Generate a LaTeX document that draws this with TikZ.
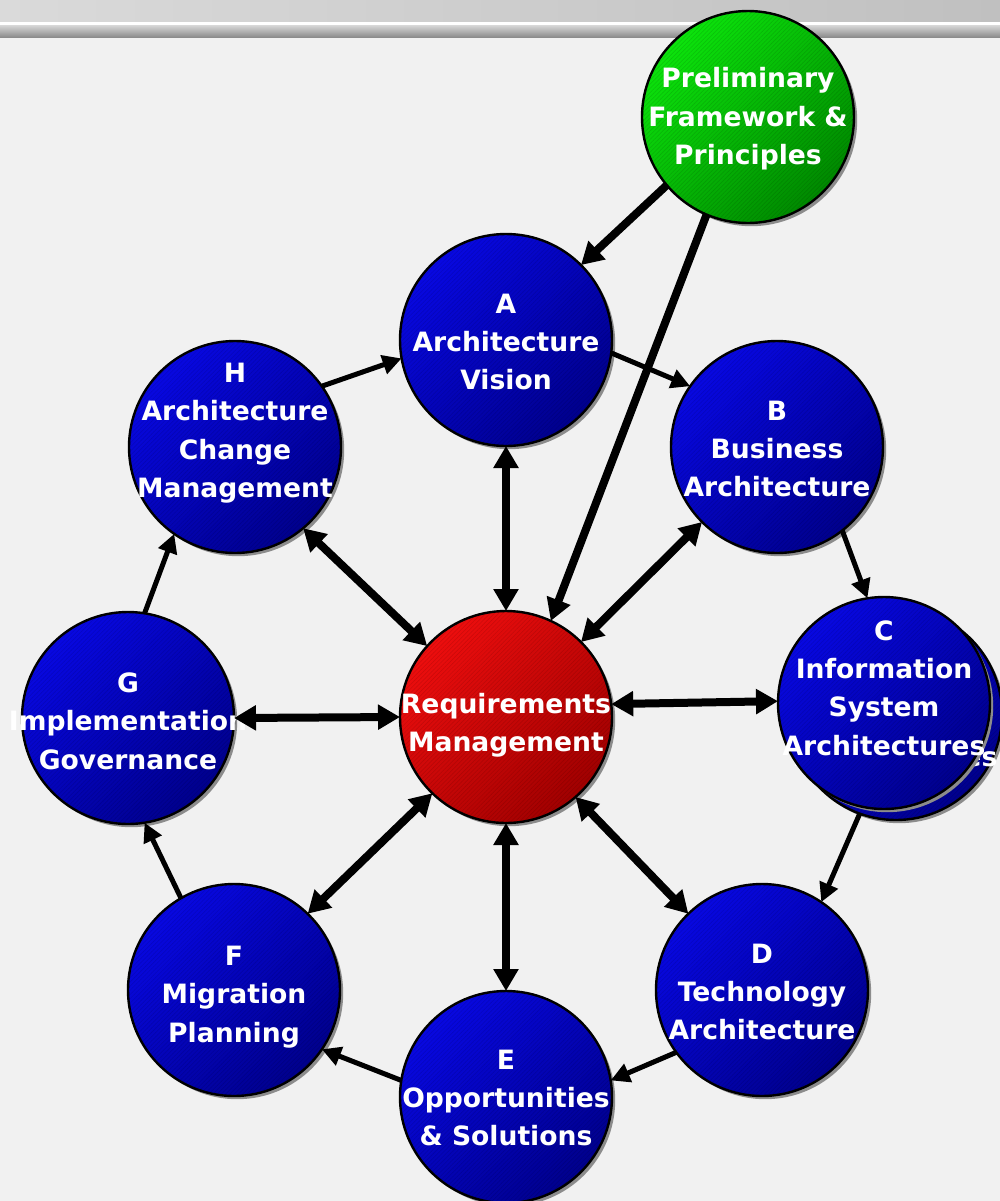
\documentclass[tikz,border=0pt]{standalone}
\usepackage{fontspec}
\setmainfont{DejaVu Sans}
\usetikzlibrary{arrows.meta,shadows,patterns.meta}

\definecolor{bodyGray}{HTML}{F1F1F1}
\definecolor{barLight}{HTML}{DADADA}
\definecolor{barDark}{HTML}{C0C0C0}
\definecolor{bandLight}{HTML}{D8D8D8}
\definecolor{bandDark}{HTML}{8C8C8C}
\definecolor{blueLight}{HTML}{0808E2}
\definecolor{blueDark}{HTML}{00008C}
\definecolor{greenLight}{HTML}{0CE40C}
\definecolor{greenDark}{HTML}{008800}
\definecolor{redLight}{HTML}{EE0E0E}
\definecolor{redDark}{HTML}{A00000}

\begin{document}
\begin{tikzpicture}[x=0.5pt, y=-0.5pt,
    disc/.style={circle, draw=black, line width=1.2pt, minimum size=106pt, inner sep=0pt, outer sep=0pt,
        drop shadow={shadow xshift=1.6pt, shadow yshift=-1.6pt, fill=black!45, opacity=1},
        postaction={opacity=0.12, pattern={Lines[angle=45,distance=1.5pt,line width=0.25pt]}, pattern color=black}},
    phase/.style={disc, top color=blueLight, bottom color=blueDark, shading angle=45},
    prelim/.style={disc, top color=greenLight, bottom color=greenDark, shading angle=45},
    reqs/.style={disc, top color=redLight, bottom color=redDark, shading angle=45},
    txt/.style={text=white, font=\fontsize{13.3}{19.2}\selectfont\bfseries, align=center, inner sep=0pt},
    bigarrow/.style={line width=4pt, -{Triangle[width=12pt,length=11pt]}},
    twoway/.style={line width=4pt, {Triangle[width=12pt,length=11pt]}-{Triangle[width=12pt,length=11pt]}},
    ringarrow/.style={line width=2.5pt, -{Triangle[width=9.5pt,length=9.5pt]}}]
    \useasboundingbox (0,0) rectangle (1000,1201);
    % background and title bar
    \fill[bodyGray] (0,0) rectangle (1000,1201);
    \shade[left color=barLight, right color=barDark] (0,0) rectangle (1000,22);
    \fill[white] (0,22) rectangle (1000,25);
    \shade[top color=bandLight, bottom color=bandDark] (0,25) rectangle (1000,37);
    % circles
    \node[prelim] (P) at (748,117) {};
    \node[txt] (Pt) at (748,119) {Preliminary\\Framework \&\\Principles};
    \node[phase] (A) at (506,340) {};
    \node[txt] (At) at (506,342) {A\\Architecture\\Vision};
    \node[phase] (B) at (777,447) {};
    \node[txt] (Bt) at (777,449) {B\\Business\\Architecture};
    \node[phase] (Cb) at (896,714) {};
    \node[txt] (Cbt) at (896,699) {C\\Information\\System\\Architectures};
    \node[phase] (C) at (884,703) {};
    \node[txt] (Ct) at (884,688) {C\\Information\\System\\Architectures};
    \node[phase] (D) at (762,990) {};
    \node[txt] (Dt) at (762,992) {D\\Technology\\Architecture};
    \node[phase] (E) at (506,1097) {};
    \node[txt] (Et) at (506,1098) {E\\Opportunities\\\& Solutions};
    \node[phase] (F) at (234,990) {};
    \node[txt] (Ft) at (234,997) {F\\Migration\\Planning};
    \node[phase] (G) at (128,718) {};
    \node[txt] (Gt) at (128,721) {G\\Implementation\\Governance};
    \node[phase] (H) at (235,447) {};
    \node[txt] (Ht) at (235,433) {H\\Architecture\\Change\\Management};
    \node[reqs] (R) at (506,717) {};
    \node[txt] (Rt) at (506,725) {Requirements\\Management};
    % ring of phases
    \draw[ringarrow] (H.35) -- (A.190);
    \draw[ringarrow] (A.353) -- (B.145);
    \draw[ringarrow] (B.308) -- (C.99);
    \draw[ringarrow] (Cb.250) -- (D.56);
    \draw[ringarrow] (D.216) -- (E.9);
    \draw[ringarrow] (E.171) -- (F.326);
    \draw[ringarrow] (F.120) -- (G.279);
    \draw[ringarrow] (G.81) -- (H.235);
    % spokes to requirements
    \draw[twoway] (R.90) -- (A.270);
    \draw[twoway] (R.45) -- (B.225);
    \draw[twoway] (R.7) -- (C.179);
    \draw[twoway] (R.311) -- (D.134);
    \draw[twoway] (R.270) -- (E.90);
    \draw[twoway] (R.226) -- (F.46);
    \draw[twoway] (R.180) -- (G.0);
    \draw[twoway] (R.138) -- (H.310);
    % from preliminary
    \draw[bigarrow] (P.220) -- (A.45);
    \draw[bigarrow] (P.247) -- (R.65);
\end{tikzpicture}
\end{document}
